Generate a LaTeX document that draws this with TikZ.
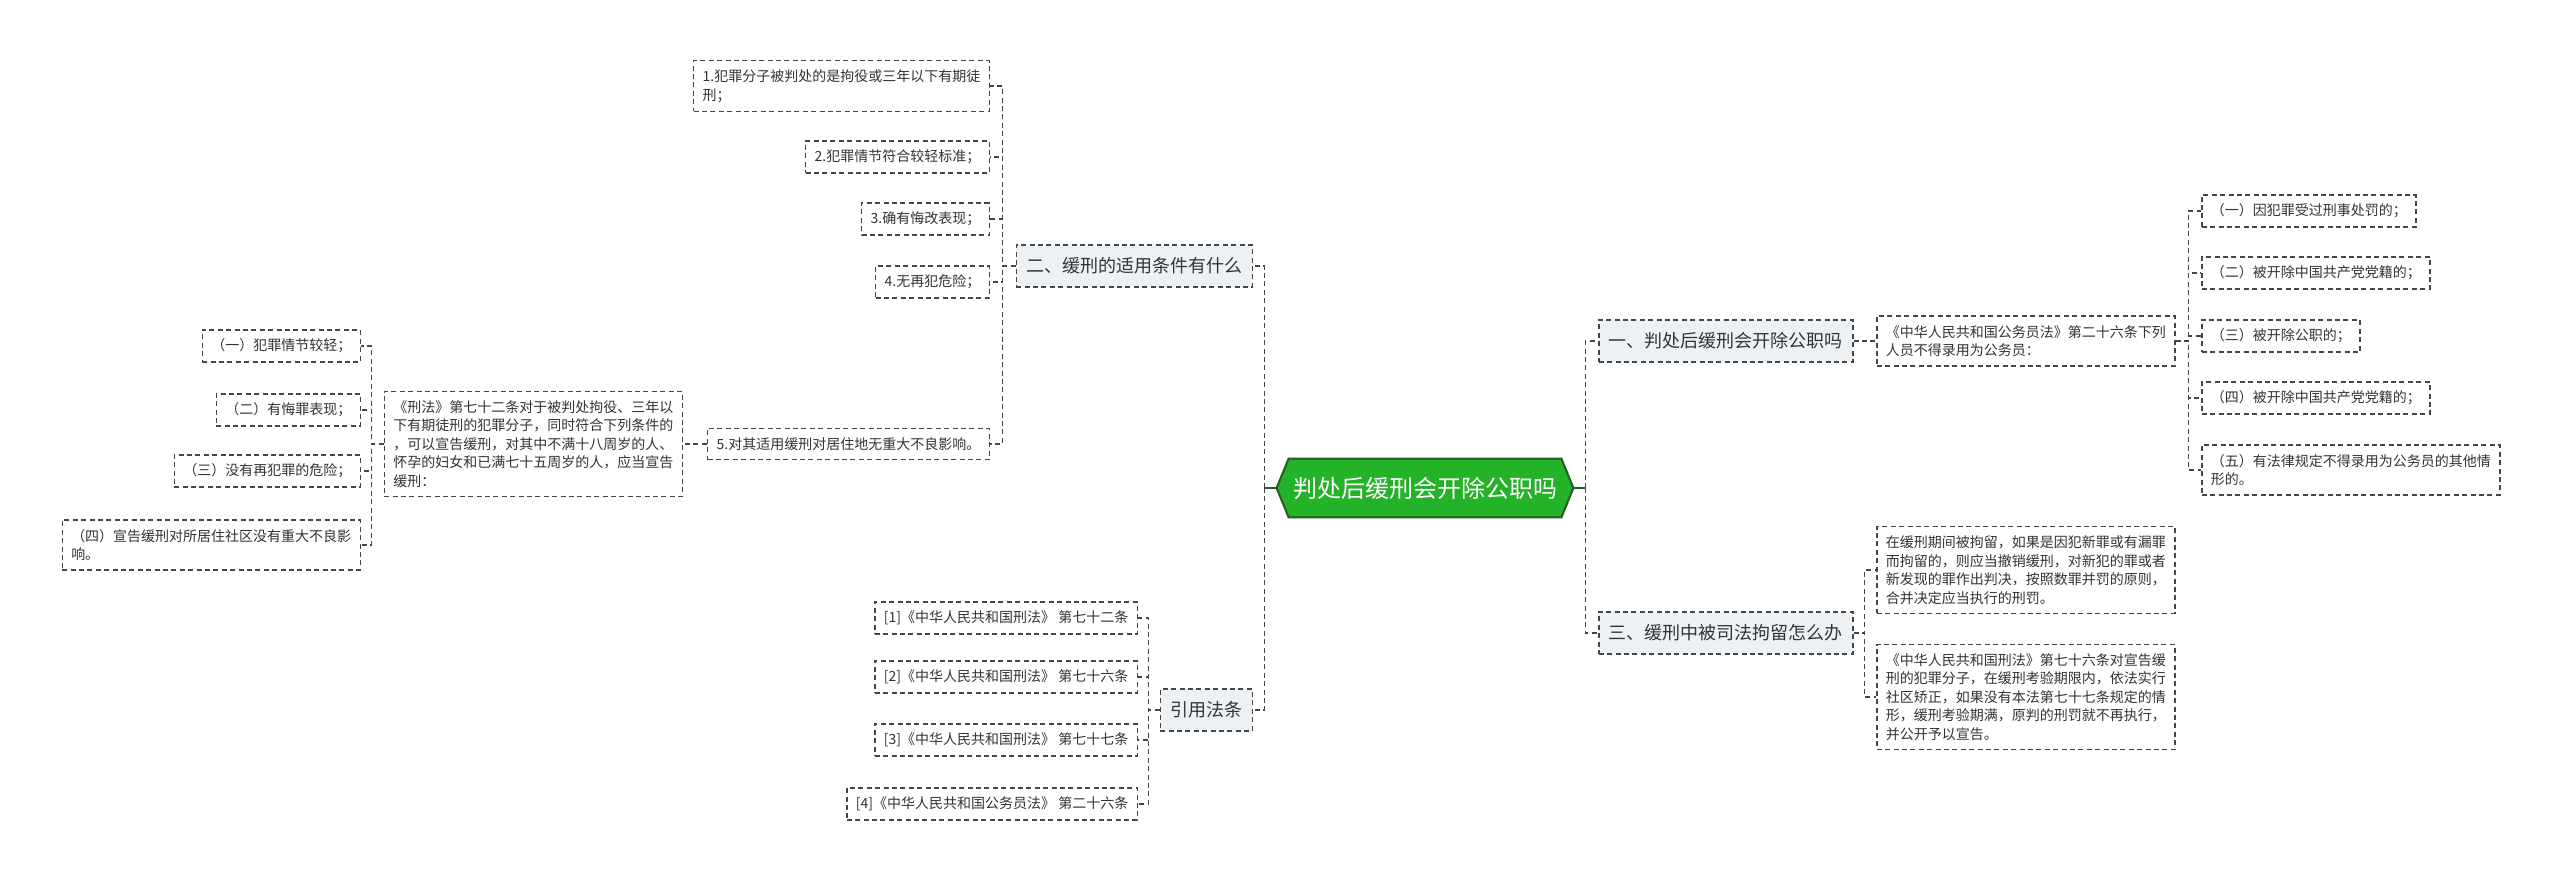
\documentclass[tikz,border=0pt]{standalone}
\usepackage{fontspec}
\setmainfont{Noto Sans CJK SC}
\usetikzlibrary{backgrounds}

\definecolor{inkgray}{RGB}{51,51,51}
\definecolor{linegray}{RGB}{70,70,70}
\definecolor{topicfill}{RGB}{238,241,244}
\definecolor{rootgreen}{RGB}{36,178,40}
\definecolor{rootedge}{RGB}{38,92,38}

\begin{document}
\begin{tikzpicture}[x=0.5pt, y=-0.5pt,
    link/.style={draw=linegray, line width=0.75pt, dash pattern=on 2.5pt off 1.7pt},
    stem/.style={draw=rootedge, line width=1pt},
    dashbox/.style={draw=linegray, line width=0.75pt, dash pattern=on 2.5pt off 1.7pt, text=inkgray},
    topic/.style={dashbox, fill=topicfill, font=\fontsize{9}{11}\selectfont, inner xsep=5pt, minimum height=21pt},
    leaf/.style={dashbox, fill=white, font=\fontsize{7}{9.25}\selectfont, align=left, inner xsep=4.5pt, inner ysep=4.5pt},
    root/.style={text=white, font=\fontsize{12}{14}\selectfont, minimum width=136pt, minimum height=29pt, inner sep=0pt},
    rootshape/.style={fill=rootgreen, draw=rootedge, line width=1pt}]
\useasboundingbox (0, 0) rectangle (2560, 881);

% Root topic (hexagon)
\node[root] (root) at (1425, 488) {判处后缓刑会开除公职吗};
\begin{scope}[on background layer]
  \filldraw[rootshape] (root.north west) -- (root.north east) -- ([xshift=6pt]root.east)
    -- (root.south east) -- (root.south west) -- ([xshift=-6pt]root.west) -- cycle;
\end{scope}
\coordinate (trunkL) at ([xshift=-12pt]root.west);
\coordinate (trunkR) at ([xshift=12pt]root.east);
\draw[stem] ([xshift=-6pt]root.west) -- (trunkL);
\draw[stem] ([xshift=6pt]root.east) -- (trunkR);

% Main branches
\node[topic, anchor=east] (cond) at (1253, 266) {二、缓刑的适用条件有什么};
\node[topic, anchor=east] (cite) at (1253, 710) {引用法条};
\node[topic, anchor=west] (fire) at (1598, 341) {一、判处后缓刑会开除公职吗};
\node[topic, anchor=west] (detain) at (1598, 633) {三、缓刑中被司法拘留怎么办};
\draw[link] (trunkL) |- (cond.east);
\draw[link] (trunkL) |- (cite.east);
\draw[link] (trunkR) |- (fire.west);
\draw[link] (trunkR) |- (detain.west);

% Conditions for probation
\node[leaf, anchor=east] (c1) at (990, 86) {1.犯罪分子被判处的是拘役或三年以下有期徒\\刑；};
\node[leaf, anchor=east] (c2) at (990, 157) {2.犯罪情节符合较轻标准；};
\node[leaf, anchor=east] (c3) at (990, 219) {3.确有悔改表现；};
\node[leaf, anchor=east] (c4) at (990, 282) {4.无再犯危险；};
\node[leaf, anchor=east] (c5) at (990, 444) {5.对其适用缓刑对居住地无重大不良影响。};
\draw[link] (cond.west) -- ++(-13, 0) |- (c1.east);
\draw[link] (cond.west) -- ++(-13, 0) |- (c2.east);
\draw[link] (cond.west) -- ++(-13, 0) |- (c3.east);
\draw[link] (cond.west) -- ++(-13, 0) |- (c4.east);
\draw[link] (cond.west) -- ++(-13, 0) |- (c5.east);

% Article 72
\node[leaf, anchor=east] (art72) at (683, 444) {《刑法》第七十二条对于被判处拘役、三年以\\下有期徒刑的犯罪分子，同时符合下列条件的\\，可以宣告缓刑，对其中不满十八周岁的人、\\怀孕的妇女和已满七十五周岁的人，应当宣告\\缓刑：};
\draw[link] (c5.west) -- (art72.east);
\node[leaf, anchor=east] (g1) at (361, 346) {（一）犯罪情节较轻；};
\node[leaf, anchor=east] (g2) at (361, 410) {（二）有悔罪表现；};
\node[leaf, anchor=east] (g3) at (361, 471) {（三）没有再犯罪的危险；};
\node[leaf, anchor=east] (g4) at (361, 545) {（四）宣告缓刑对所居住社区没有重大不良影\\响。};
\draw[link] (art72.west) -- ++(-12, 0) |- (g1.east);
\draw[link] (art72.west) -- ++(-12, 0) |- (g2.east);
\draw[link] (art72.west) -- ++(-12, 0) |- (g3.east);
\draw[link] (art72.west) -- ++(-12, 0) |- (g4.east);

% Cited articles
\node[leaf, anchor=east] (f1) at (1138, 618) {[1]《中华人民共和国刑法》 第七十二条};
\node[leaf, anchor=east] (f2) at (1138, 677) {[2]《中华人民共和国刑法》 第七十六条};
\node[leaf, anchor=east] (f3) at (1138, 740) {[3]《中华人民共和国刑法》 第七十七条};
\node[leaf, anchor=east] (f4) at (1138, 804) {[4]《中华人民共和国公务员法》 第二十六条};
\draw[link] (cite.west) -- ++(-11, 0) |- (f1.east);
\draw[link] (cite.west) -- ++(-11, 0) |- (f2.east);
\draw[link] (cite.west) -- ++(-11, 0) |- (f3.east);
\draw[link] (cite.west) -- ++(-11, 0) |- (f4.east);

% Civil servant law
\node[leaf, anchor=west] (law) at (1876, 341) {《中华人民共和国公务员法》第二十六条下列\\人员不得录用为公务员：};
\draw[link] (fire.east) -- (law.west);
\node[leaf, anchor=west] (r1) at (2201, 211) {（一）因犯罪受过刑事处罚的；};
\node[leaf, anchor=west] (r2) at (2201, 273) {（二）被开除中国共产党党籍的；};
\node[leaf, anchor=west] (r3) at (2201, 336) {（三）被开除公职的；};
\node[leaf, anchor=west] (r4) at (2201, 398) {（四）被开除中国共产党党籍的；};
\node[leaf, anchor=west] (r5) at (2201, 470) {（五）有法律规定不得录用为公务员的其他情\\形的。};
\draw[link] (law.east) -- ++(13, 0) |- (r1.west);
\draw[link] (law.east) -- ++(13, 0) |- (r2.west);
\draw[link] (law.east) -- ++(13, 0) |- (r3.west);
\draw[link] (law.east) -- ++(13, 0) |- (r4.west);
\draw[link] (law.east) -- ++(13, 0) |- (r5.west);

% Detention during probation
\node[leaf, anchor=west] (d1) at (1876, 570) {在缓刑期间被拘留，如果是因犯新罪或有漏罪\\而拘留的，则应当撤销缓刑，对新犯的罪或者\\新发现的罪作出判决，按照数罪并罚的原则，\\合并决定应当执行的刑罚。};
\node[leaf, anchor=west] (d2) at (1876, 697) {《中华人民共和国刑法》第七十六条对宣告缓\\刑的犯罪分子，在缓刑考验期限内，依法实行\\社区矫正，如果没有本法第七十七条规定的情\\形，缓刑考验期满，原判的刑罚就不再执行，\\并公开予以宣告。};
\draw[link] (detain.east) -- ++(11, 0) |- (d1.west);
\draw[link] (detain.east) -- ++(11, 0) |- (d2.west);
\end{tikzpicture}
\end{document}
